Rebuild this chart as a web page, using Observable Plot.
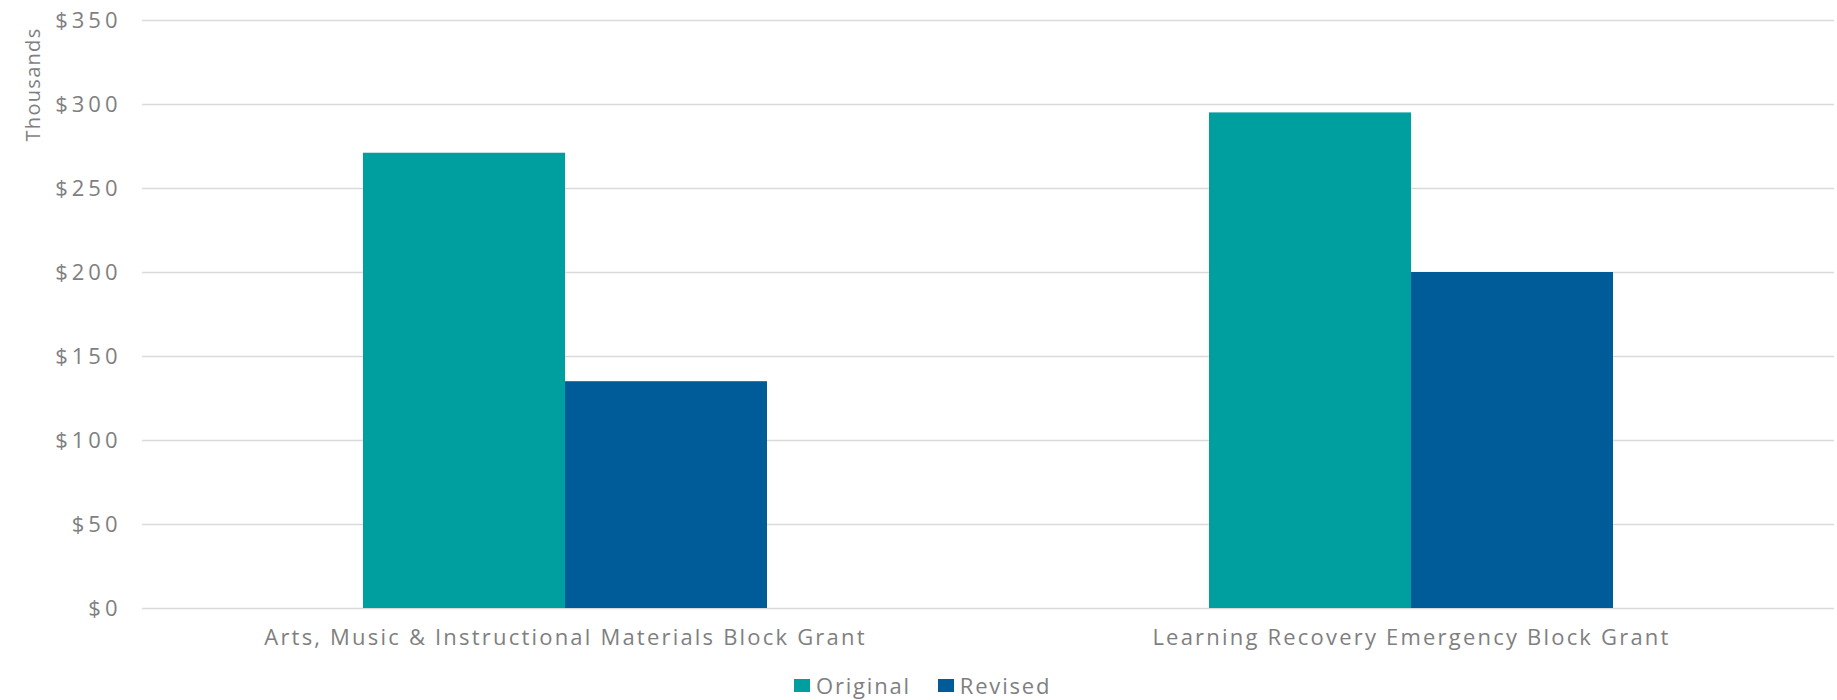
<!DOCTYPE html>
<html>
<head>
<meta charset="utf-8">
<script src="https://cdn.jsdelivr.net/npm/d3@7"></script>
<script src="https://cdn.jsdelivr.net/npm/@observablehq/plot@0.6"></script>
<style>
  html, body { margin: 0; padding: 0; background: #fff; }
  body { width: 1837px; height: 700px; overflow: hidden; font-family: "Open Sans", sans-serif; }
  #legend { position: relative; height: 40px; font-size: 22px; color: #7f7f7f; letter-spacing: 1.8px; }
  #legend .inner { position: absolute; left: 794px; top: 25px; transform: translateY(-50%); display: flex; align-items: center; white-space: nowrap; }
  #legend .item { display: flex; align-items: center; margin-right: 27px; }
  #legend .sw { width: 16px; height: 13px; margin-right: 6px; }
  g[aria-label="y-axis tick label"] text { letter-spacing: 4px; }
  g[aria-label="fx-axis tick label"] text { letter-spacing: 2.2px; }
  g[aria-label="text"] text { letter-spacing: 1.3px; }
</style>
</head>
<body>
<div id="chart"></div>
<div id="legend"><div class="inner"></div></div>
<script>
const categories = ["Arts, Music & Instructional Materials Block Grant", "Learning Recovery Emergency Block Grant"];
const series = ["Original", "Revised"];
const original = [271, 295];
const revised = [135, 200];
const yTicks = [0, 50, 100, 150, 200, 250, 300, 350];
const colors = ["#009f9f", "#005c98"];
const axisLabel = "Thousands";

const values = { Original: original, Revised: revised };
const table = [];
categories.forEach((c, i) => series.forEach(s => table.push({ category: c, series: s, value: values[s][i] })));

const textColor = "#7f7f7f";
const fontSize = 22;

const chart = Plot.plot({
  width: 1837,
  height: 660,
  marginLeft: 142,
  marginRight: 3,
  marginTop: 20,
  marginBottom: 52,
  style: { fontFamily: "'Open Sans', sans-serif", color: textColor, background: "#fff" },
  fx: { domain: categories, padding: 0 },
  x: { domain: series, paddingInner: 0, paddingOuter: 1.094, round: false, axis: null },
  y: { domain: [0, 350], axis: null },
  color: { domain: series, range: colors },
  marks: [
    Plot.gridY(yTicks, { stroke: "#d9d9d9", strokeOpacity: 1, strokeWidth: 1.5 }),
    Plot.barY(table, { fx: "category", x: "series", y: "value", fill: "series" }),
    Plot.axisY(yTicks, { tickSize: 0, tickPadding: 21, tickFormat: d => "$" + d, fontSize, fill: textColor, label: null }),
    Plot.axisFx({ anchor: "bottom", tickSize: 0, tickPadding: 21, fontSize, fill: textColor, label: null }),
    Plot.text([{ label: axisLabel, fx: categories[0] }], {
      fx: "fx", text: "label", frameAnchor: "top-left", rotate: -90, textAnchor: "end",
      dx: -117, dy: 7, fontSize: 20, fill: textColor
    })
  ]
});
document.getElementById("chart").appendChild(chart);

const inner = document.querySelector("#legend .inner");
series.forEach((s, i) => {
  const item = document.createElement("div");
  item.className = "item";
  const sw = document.createElement("span");
  sw.className = "sw";
  sw.style.background = colors[i];
  const t = document.createElement("span");
  t.textContent = s;
  item.appendChild(sw);
  item.appendChild(t);
  inner.appendChild(item);
});
</script>
</body>
</html>
